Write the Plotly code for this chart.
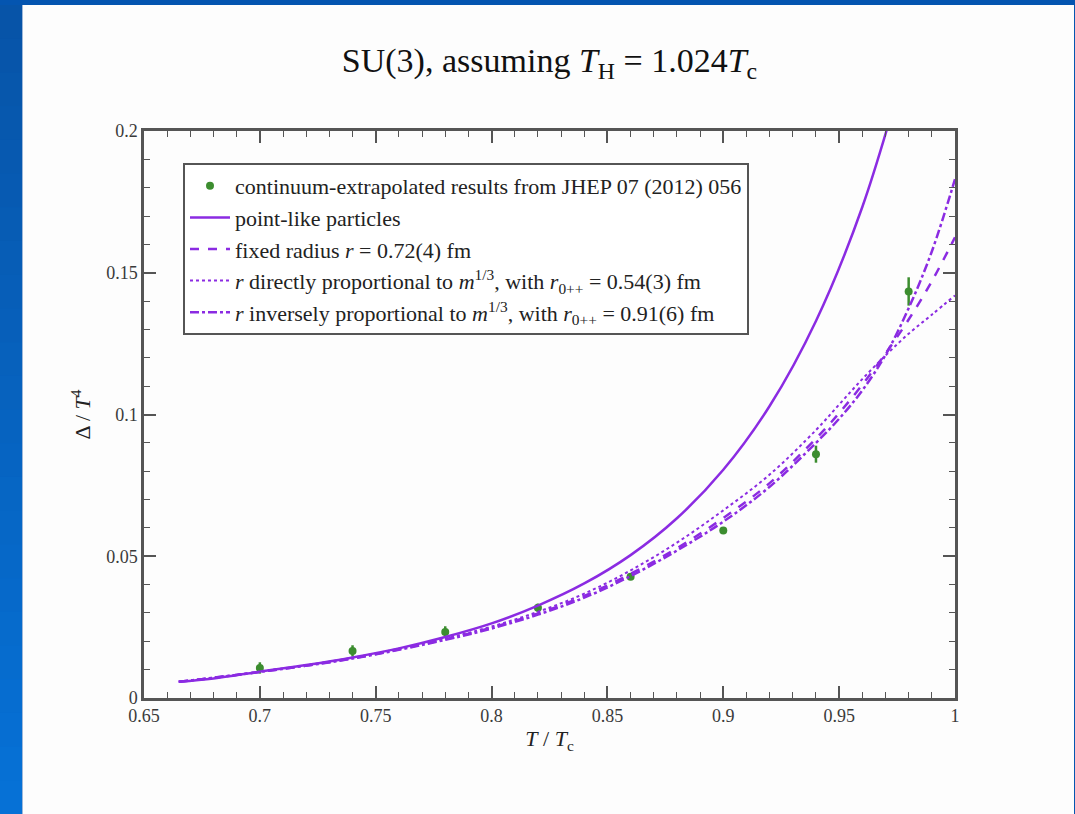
import plotly.graph_objects as go

# ---------------- data ----------------
T_data = [0.70, 0.74, 0.78, 0.82, 0.86, 0.90, 0.94, 0.98]
delta_data = [0.0106, 0.0166, 0.0233, 0.0318, 0.0428, 0.0591, 0.0860, 0.1434]
delta_err = [0.0020, 0.0020, 0.0020, 0.0015, 0.0010, 0.0010, 0.0030, 0.0050]

T_point = [0.665, 0.68, 0.70, 0.72, 0.74, 0.76, 0.78, 0.80, 0.82, 0.84,
           0.86, 0.88, 0.90, 0.92, 0.94, 0.96, 0.98]
delta_point = [0.0057, 0.0069, 0.0093, 0.0116, 0.0143, 0.0175, 0.0215, 0.0263,
               0.0326, 0.0404, 0.0504, 0.0634, 0.0805, 0.1030, 0.1330, 0.1732, 0.2274]

T_model = [0.665, 0.70, 0.74, 0.78, 0.80, 0.82, 0.84, 0.86, 0.88, 0.90,
           0.92, 0.94, 0.95, 0.96, 0.97, 0.98, 0.99, 1.00]
delta_fixed = [0.0057, 0.0092, 0.0140, 0.0207, 0.0248, 0.0298, 0.0360, 0.0438, 0.0528,
               0.0635, 0.0758, 0.0915, 0.1005, 0.1105, 0.1215, 0.1335, 0.1470, 0.1625]
delta_direct = [0.0057, 0.0093, 0.0142, 0.0210, 0.0252, 0.0304, 0.0368, 0.0450, 0.0548,
                0.0662, 0.0788, 0.0945, 0.1035, 0.1125, 0.1208, 0.1285, 0.1352, 0.1420]
delta_inverse = [0.0057, 0.0092, 0.0139, 0.0205, 0.0245, 0.0294, 0.0354, 0.0430, 0.0520,
                 0.0622, 0.0745, 0.0900, 0.0985, 0.1085, 0.1210, 0.1375, 0.1575, 0.1830]

x_ticks = [0.65, 0.7, 0.75, 0.8, 0.85, 0.9, 0.95, 1]
x_ticklabels = ["0.65", "0.7", "0.75", "0.8", "0.85", "0.9", "0.95", "1"]
y_ticks = [0, 0.05, 0.1, 0.15, 0.2]
y_ticklabels = ["0", "0.05", "0.1", "0.15", "0.2"]

names = [
    "continuum-extrapolated results from JHEP 07 (2012) 056",
    "point-like particles",
    "fixed radius <i>r</i> = 0.72(4) fm",
    "<i>r</i> directly proportional to <i>m</i><sup>1/3</sup>, with <i>r</i><sub>0++</sub> = 0.54(3) fm",
    "<i>r</i> inversely proportional to <i>m</i><sup>1/3</sup>, with <i>r</i><sub>0++</sub> = 0.91(6) fm",
]

# ---------------- style ----------------
W, H = 1075, 814
L, R, T, B = 144, 120, 131, 116
PW, PH = W - L - R, H - T - B
PURPLE = "#8B2BE2"
GREEN = "#3c8d2f"
SERIF = "Liberation Serif, Times New Roman, serif"
AX = "#555555"


def px2x(px):
    return (px - L) / PW


def px2y(py):
    return (H - B - py) / PH


fig = go.Figure()

fig.add_trace(go.Scatter(
    x=T_data, y=delta_data, mode="markers", name=names[0],
    marker=dict(color=GREEN, size=8),
    error_y=dict(type="data", array=delta_err, color=GREEN, thickness=2.5, width=0),
))
fig.add_trace(go.Scatter(x=T_point, y=delta_point, mode="lines", name=names[1],
                         line=dict(color=PURPLE, width=2.5, shape="spline")))
fig.add_trace(go.Scatter(x=T_model, y=delta_fixed, mode="lines", name=names[2],
                         line=dict(color=PURPLE, width=2.5, dash="dash", shape="spline")))
fig.add_trace(go.Scatter(x=T_model, y=delta_direct, mode="lines", name=names[3],
                         line=dict(color=PURPLE, width=2, dash="dot", shape="spline")))
fig.add_trace(go.Scatter(x=T_model, y=delta_inverse, mode="lines", name=names[4],
                         line=dict(color=PURPLE, width=2.5, dash="dashdot", shape="spline")))

# ---------------- slide background (blue frame, white page) ----------------
shapes = []
shapes.append(dict(type="rect", xref="paper", yref="paper",
                   x0=px2x(0), x1=px2x(W), y0=px2y(H), y1=px2y(0),
                   fillcolor="#0556b0", line=dict(width=0), layer="below"))
n = 24
c0 = (7, 84, 168)
c1 = (6, 113, 214)
for i in range(n):
    f = i / (n - 1)
    col = "rgb(%d,%d,%d)" % tuple(int(round(a + (b - a) * f)) for a, b in zip(c0, c1))
    y_top = 5 + (H - 5) * i / n
    y_bot = 5 + (H - 5) * (i + 1) / n + 1
    shapes.append(dict(type="rect", xref="paper", yref="paper",
                       x0=px2x(0), x1=px2x(22), y0=px2y(y_bot), y1=px2y(y_top),
                       fillcolor=col, line=dict(width=0), layer="below"))
shapes.append(dict(type="rect", xref="paper", yref="paper",
                   x0=px2x(0), x1=px2x(W), y0=px2y(5), y1=px2y(0),
                   fillcolor="#0455b0", line=dict(width=0), layer="below"))
shapes.append(dict(type="rect", xref="paper", yref="paper",
                   x0=px2x(22), x1=px2x(1074), y0=px2y(H), y1=px2y(5),
                   fillcolor="#fdfdfd", line=dict(width=0), layer="below"))
shapes.append(dict(type="rect", xref="paper", yref="paper",
                   x0=px2x(22), x1=px2x(23), y0=px2y(H), y1=px2y(5),
                   fillcolor="#9fb8d8", line=dict(width=0), layer="below"))

axis_common = dict(
    showline=True, linecolor=AX, linewidth=2.5, mirror="allticks",
    ticks="inside", ticklen=12, tickwidth=1.5, tickcolor=AX,
    showgrid=False, zeroline=False,
    tickfont=dict(family=SERIF, size=18, color="#3a3a3a"),
    minor=dict(ticks="inside", ticklen=6, tickwidth=1.2, tickcolor=AX, dtick=0.01, showgrid=False),
)

fig.update_layout(
    width=W, height=H,
    margin=dict(l=L, r=R, t=T, b=B, autoexpand=False),
    paper_bgcolor="#0556b0",
    plot_bgcolor="white",
    shapes=shapes,
    title=dict(
        text="SU(3), assuming <i>T</i><sub>H</sub> = 1.024<i>T</i><sub>c</sub>",
        x=0.5, xref="paper", xanchor="center",
        y=1 - 60 / H, yref="container", yanchor="middle",
        font=dict(family=SERIF, size=34, color="#111111"),
    ),
    xaxis=dict(
        range=[0.65, 1.0], tickvals=x_ticks, ticktext=x_ticklabels,
        title=dict(text="<i>T</i> / <i>T</i><sub>c</sub>", standoff=6,
                   font=dict(family=SERIF, size=22, color="#222222")),
        **axis_common,
    ),
    yaxis=dict(
        range=[0, 0.2], tickvals=y_ticks, ticktext=y_ticklabels,
        title=dict(text="Δ / <i>T</i><sup>4</sup>", standoff=10,
                   font=dict(family=SERIF, size=22, color="#222222")),
        **axis_common,
    ),
    legend=dict(
        x=px2x(183), y=px2y(163), xanchor="left", yanchor="top",
        bgcolor="white", bordercolor="#555555", borderwidth=2,
        font=dict(family=SERIF, size=22, color="#222222"),
        itemwidth=40, tracegroupgap=0,
    ),
    showlegend=True,
)

fig.write_html("out.html", config={"displayModeBar": False},
               post_script="document.body.style.margin='0px';")
